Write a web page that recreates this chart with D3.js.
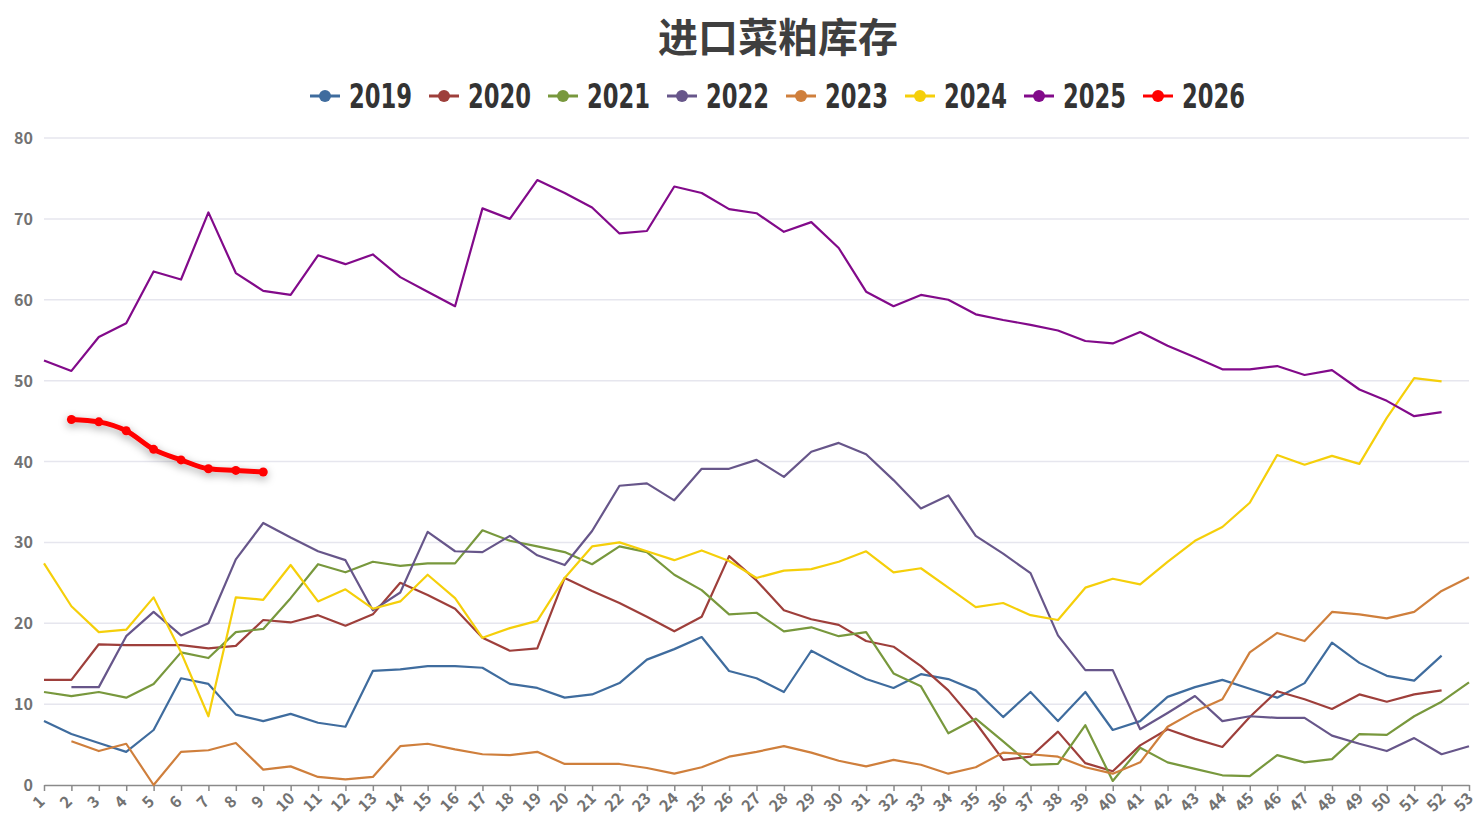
<!DOCTYPE html>
<html>
<head>
<meta charset="utf-8">
<script src="https://cdn.jsdelivr.net/npm/d3@7"></script>
<style>
  body { margin: 0; background: #fff; }
  text { font-family: "Noto Sans CJK SC", "Open Sans", sans-serif; }
</style>
</head>
<body>
<div id="chart"></div>
<script>
const weeks = d3.range(1, 54);
const years = ["2019", "2020", "2021", "2022", "2023", "2024", "2025", "2026"];
const colors = ["#3f6c9e", "#9e3f3b", "#78983d", "#67568a", "#cf7f3c", "#f5cf0a", "#820a8a", "#ff0000"];
const yTicks = [0, 10, 20, 30, 40, 50, 60, 70, 80];

// values start at week 1 unless a start week is given
const v2019 = [7.9, 6.3, 5.2, 4.1, 6.8, 13.2, 12.5, 8.7, 7.9, 8.8, 7.7, 7.2, 14.1, 14.3, 14.7, 14.7, 14.5, 12.5, 12.0, 10.8,
  11.2, 12.6, 15.5, 16.8, 18.3, 14.1, 13.2, 11.5, 16.6, 14.8, 13.1, 12.0, 13.7, 13.1, 11.7, 8.4, 11.5, 7.9, 11.5, 6.8,
  7.9, 10.9, 12.1, 13.0, 11.9, 10.8, 12.6, 17.6, 15.1, 13.5, 12.9, 16.0];
const v2020 = [13.0, 13.0, 17.4, 17.3, 17.3, 17.3, 16.9, 17.2, 20.4, 20.1, 21.0, 19.7, 21.1, 25.0, 23.5, 21.8, 18.2, 16.6, 16.9, 25.6,
  24.0, 22.5, 20.8, 19.0, 20.8, 28.3, 25.3, 21.6, 20.5, 19.8, 17.8, 17.1, 14.7, 11.7, 7.7, 3.1, 3.5, 6.6, 2.7, 1.7,
  4.9, 6.9, 5.7, 4.7, 8.4, 11.6, 10.6, 9.4, 11.2, 10.3, 11.2, 11.7];
const v2021 = [11.5, 11.0, 11.5, 10.8, 12.5, 16.4, 15.7, 18.9, 19.3, 23.1, 27.3, 26.3, 27.6, 27.1, 27.4, 27.4, 31.5, 30.2, 29.5, 28.8,
  27.3, 29.5, 28.8, 26.0, 24.1, 21.1, 21.3, 19.0, 19.5, 18.4, 18.9, 13.8, 12.2, 6.4, 8.2, 5.4, 2.5, 2.6, 7.4, 0.5,
  4.6, 2.8, 2.0, 1.2, 1.1, 3.7, 2.8, 3.2, 6.3, 6.2, 8.5, 10.3, 12.7];
const v2022 = [12.1, 12.1, 18.4, 21.4, 18.5, 20.0, 27.9, 32.4, 30.6, 28.9, 27.8, 21.6, 23.8, 31.3, 28.9, 28.8, 30.8, 28.4, 27.2,
  31.4, 37.0, 37.3, 35.2, 39.1, 39.1, 40.2, 38.1, 41.2, 42.3, 40.9, 37.7, 34.2, 35.8, 30.8, 28.6, 26.2, 18.5, 14.2, 14.2,
  6.9, 8.9, 11.0, 7.9, 8.5, 8.3, 8.3, 6.1, 5.1, 4.2, 5.8, 3.8, 4.8];
const v2023 = [5.4, 4.2, 5.1, 0.0, 4.1, 4.3, 5.2, 1.9, 2.3, 1.0, 0.7, 1.0, 4.8, 5.1, 4.4, 3.8, 3.7, 4.1, 2.6,
  2.6, 2.6, 2.1, 1.4, 2.2, 3.5, 4.1, 4.8, 4.0, 3.0, 2.3, 3.1, 2.5, 1.4, 2.2, 4.0, 3.8, 3.5, 2.2, 1.4,
  2.8, 7.2, 9.1, 10.6, 16.4, 18.8, 17.8, 21.4, 21.1, 20.6, 21.4, 24.0, 25.7];
const v2024 = [27.4, 22.1, 18.9, 19.2, 23.2, 16.4, 8.5, 23.2, 22.9, 27.2, 22.7, 24.2, 21.8, 22.7, 26.0, 23.1, 18.2, 19.4, 20.3, 25.6,
  29.5, 30.0, 28.9, 27.8, 29.0, 27.7, 25.6, 26.5, 26.7, 27.6, 28.9, 26.3, 26.8, 24.4, 22.0, 22.5, 21.0, 20.4, 24.4, 25.5,
  24.8, 27.6, 30.2, 31.9, 34.9, 40.8, 39.6, 40.7, 39.7, 45.4, 50.3, 49.9];
const v2025 = [52.5, 51.2, 55.4, 57.1, 63.5, 62.5, 70.8, 63.3, 61.1, 60.6, 65.5, 64.4, 65.6, 62.8, 61.0, 59.2, 71.3, 70.0, 74.8, 73.2,
  71.4, 68.2, 68.5, 74.0, 73.2, 71.2, 70.7, 68.4, 69.6, 66.4, 61.0, 59.2, 60.6, 60.0, 58.2, 57.5, 56.9, 56.2, 54.9, 54.6,
  56.0, 54.3, 52.9, 51.4, 51.4, 51.8, 50.7, 51.3, 48.9, 47.5, 45.6, 46.1];
const v2026 = [45.2, 44.9, 43.8, 41.5, 40.2, 39.1, 38.9, 38.7];

const seriesValues = [v2019, v2020, v2021, v2022, v2023, v2024, v2025, v2026];
const startWeek = [1, 1, 1, 2, 2, 1, 1, 2];

const width = 1478, height = 821;
const margin = { top: 138, right: 9, bottom: 36, left: 44 };

const svg = d3.select("#chart").append("svg")
  .attr("width", width)
  .attr("height", height);

const defs = svg.append("defs");
const shadow = defs.append("filter").attr("id", "shadow")
  .attr("x", "-10%").attr("y", "-50%").attr("width", "120%").attr("height", "200%");
shadow.append("feDropShadow")
  .attr("dx", 0).attr("dy", 3).attr("stdDeviation", 4)
  .attr("flood-color", "#000").attr("flood-opacity", 0.35);

const x = d3.scaleLinear().domain([1, 53]).range([margin.left, width - margin.right]);
const y = d3.scaleLinear().domain([0, 80]).range([height - margin.bottom, margin.top]);

// gridlines
svg.append("g")
  .selectAll("line")
  .data(yTicks.slice(1))
  .join("line")
  .attr("x1", x(1)).attr("x2", x(53))
  .attr("y1", d => y(d)).attr("y2", d => y(d))
  .attr("stroke", "#e6e6ee")
  .attr("stroke-width", 1.5);

// y axis labels
svg.append("g")
  .selectAll("text")
  .data(yTicks)
  .join("text")
  .attr("x", 33)
  .attr("y", d => y(d) + 6)
  .attr("text-anchor", "end")
  .attr("font-size", 16)
  .attr("font-weight", "bold")
  .attr("fill", "#727272")
  .text(d => d);

// x axis
const xAxis = svg.append("g")
  .attr("transform", `translate(0, ${y(0)})`)
  .call(d3.axisBottom(x).tickValues(weeks).tickFormat(d3.format("d")).tickSize(6).tickSizeOuter(0));
xAxis.select(".domain").attr("stroke", "#8a8a8a").attr("stroke-width", 1.5);
xAxis.selectAll(".tick line").attr("stroke", "#8a8a8a").attr("stroke-width", 1.5);
xAxis.selectAll(".tick text")
  .attr("font-size", 16)
  .attr("font-weight", "bold")
  .attr("fill", "#727272")
  .attr("text-anchor", "middle")
  .attr("y", 0)
  .attr("dy", "0.35em")
  .attr("transform", "translate(-6, 17) rotate(-45)");

// lines
const line = d3.line()
  .x(d => x(d.week))
  .y(d => y(d.value));

years.forEach((yr, i) => {
  const pts = seriesValues[i].map((v, j) => ({ week: startWeek[i] + j, value: v }));
  const isLast = yr === "2026";
  const g = svg.append("g");
  if (isLast) g.attr("filter", "url(#shadow)");
  g.append("path")
    .datum(pts)
    .attr("fill", "none")
    .attr("stroke", colors[i])
    .attr("stroke-width", isLast ? 5 : 2.2)
    .attr("stroke-linejoin", "round")
    .attr("d", isLast ? line.curve(d3.curveMonotoneX)(pts) : line.curve(d3.curveLinear)(pts));
  if (isLast) {
    g.selectAll("circle")
      .data(pts)
      .join("circle")
      .attr("cx", d => x(d.week))
      .attr("cy", d => y(d.value))
      .attr("r", 4.5)
      .attr("fill", colors[i]);
  }
});

// title
svg.append("text")
  .attr("x", 778)
  .attr("y", 52)
  .attr("text-anchor", "middle")
  .attr("font-size", 40)
  .attr("font-weight", "bold")
  .attr("fill", "#3f3f3f")
  .text("进口菜粕库存");

// legend
const legend = svg.append("g").attr("transform", "translate(310, 96)");
years.forEach((yr, i) => {
  const item = legend.append("g").attr("transform", `translate(${i * 119}, 0)`);
  item.append("line")
    .attr("x1", 0).attr("x2", 30)
    .attr("stroke", colors[i]).attr("stroke-width", 3);
  item.append("circle")
    .attr("cx", 15).attr("r", 6)
    .attr("fill", colors[i]);
  item.append("text")
    .attr("x", 39)
    .attr("y", 12)
    .style("font-family", "'Liberation Sans Narrow', 'DejaVu Sans Condensed', Roboto, sans-serif")
    .style("font-stretch", "condensed")
    .attr("font-size", 34)
    .attr("font-weight", "bold")
    .attr("fill", "#333")
    .attr("textLength", 63)
    .attr("lengthAdjust", "spacingAndGlyphs")
    .text(yr);
});
</script>
</body>
</html>
